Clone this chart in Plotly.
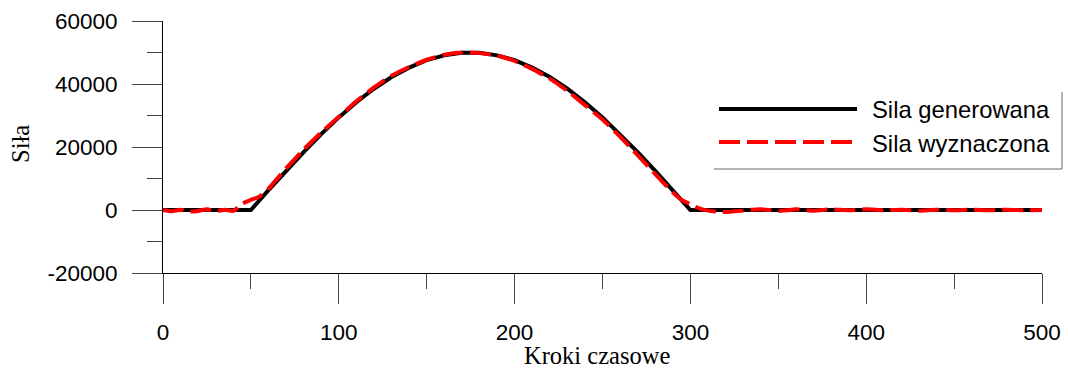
import plotly.graph_objects as go

# ---------------- data ----------------
x_gen = [0, 50, 60, 70, 80, 90, 100, 110, 120, 130, 140, 150, 160, 170, 175,
         180, 190, 200, 210, 220, 230, 240, 250, 260, 270, 280, 290, 300, 500]
y_gen = [0, 0, 6300, 12400, 18400, 24100, 29400, 34200, 38500, 42200, 45200,
         47600, 49100, 49900, 50000, 49900, 49100, 47600, 45200, 42200, 38500,
         34200, 29400, 24100, 18400, 12400, 6300, 0, 0]

x_est = [0, 5, 10, 15, 20, 25, 30, 35, 40, 45, 50, 55, 60, 70, 80, 90, 100,
         110, 120, 130, 140, 150, 160, 170, 180, 190, 200, 210, 220, 230, 240,
         250, 260, 270, 280, 290, 295, 300, 305, 310, 315, 320, 325, 330, 335,
         340, 345, 350, 355, 360, 370, 380, 390, 400, 410, 420, 430, 440, 450,
         460, 470, 480, 490, 500]
y_est = [0, -400, 100, -500, -300, 200, -400, 100, -300, 2000, 3200, 4300,
         6800, 13200, 19200, 24600, 29600, 34500, 38900, 42600, 45400, 47700,
         49300, 50000, 49800, 49000, 47300, 44800, 41700, 37800, 33300, 28700,
         23300, 17400, 11400, 5600, 3200, 1800, 500, -200, -500, -600, -400,
         -200, 100, 200, 0, -300, -100, 200, -200, 200, -100, 200, -100, 100,
         -200, 100, -100, 100, -100, 100, -50, 0]

x_tick_vals = [0, 100, 200, 300, 400, 500]
y_tick_vals = [-20000, 0, 20000, 40000, 60000]
y_tick_text = ["-20000", "0", "20000", "40000", "60000"]

name_gen = "Sila generowana"
name_est = "Sila wyznaczona"
x_title = "Kroki czasowe"
y_title = "Siła"

# ---------------- layout helpers ----------------
W, H = 1068, 372
L, R, T, B = 163, 1042, 21, 273  # plot area in px


def px(xp):
    return (xp - L) / (R - L)


def py(yp):
    return (B - yp) / (B - T)


TICK_FONT = dict(family="Liberation Sans, Arial", size=22.5, color="black")
LEG_FONT = dict(family="Liberation Sans, Arial", size=23.8, color="black")
TITLE_FONT = dict(family="Liberation Serif, Times New Roman", size=24.5, color="black")

fig = go.Figure()
fig.add_trace(go.Scatter(x=x_gen, y=y_gen, mode="lines", name=name_gen,
                         line=dict(color="black", width=4), showlegend=False))
fig.add_trace(go.Scatter(x=x_est, y=y_est, mode="lines", name=name_est,
                         line=dict(color="#ff0000", width=4, dash="21px,7px",
                                   shape="spline", smoothing=0.6),
                         showlegend=False))

fig.update_layout(
    width=W, height=H,
    margin=dict(l=L, r=W - R, t=T, b=H - B, pad=0, autoexpand=False),
    paper_bgcolor="white", plot_bgcolor="white",
    xaxis=dict(range=[0, 500], tickmode="array", tickvals=x_tick_vals,
               automargin=False,
               ticks="outside", ticklen=30, tickwidth=1, tickcolor="#444",
               showline=True, linecolor="black", linewidth=1,
               showgrid=False, zeroline=False, tickfont=TICK_FONT,
               ticklabelstandoff=9,
               minor=dict(tickmode="linear", tick0=0, dtick=50, ticks="outside",
                          ticklen=15, tickwidth=1, tickcolor="#444", showgrid=False)),
    yaxis=dict(range=[-20000, 60000], tickmode="array", tickvals=y_tick_vals,
               ticktext=y_tick_text, automargin=False,
               ticks="outside", ticklen=30, tickwidth=1, tickcolor="#444",
               showline=True, linecolor="black", linewidth=1,
               showgrid=False, zeroline=False, tickfont=TICK_FONT,
               ticklabelstandoff=10,
               minor=dict(tickmode="linear", tick0=0, dtick=10000, ticks="outside",
                          ticklen=15, tickwidth=1, tickcolor="#444", showgrid=False)),
)

# axis titles
fig.add_annotation(text=x_title, xref="paper", yref="paper", x=px(597), y=py(355),
                   showarrow=False, font=TITLE_FONT, xanchor="center", yanchor="middle")
fig.add_annotation(text=y_title, xref="paper", yref="paper", x=px(20), y=py(144),
                   showarrow=False, font=TITLE_FONT, textangle=-90,
                   xanchor="center", yanchor="middle")

# manual legend
fig.add_shape(type="line", xref="paper", yref="paper", x0=px(1062), x1=px(1062),
              y0=py(92), y1=py(169), line=dict(color="#666", width=1))
fig.add_shape(type="line", xref="paper", yref="paper", x0=px(714), x1=px(1062),
              y0=py(169), y1=py(169), line=dict(color="#666", width=1))
fig.add_shape(type="line", xref="paper", yref="paper", x0=px(719), x1=px(857),
              y0=py(109), y1=py(109), line=dict(color="black", width=4))
fig.add_shape(type="line", xref="paper", yref="paper", x0=px(719), x1=px(852),
              y0=py(142), y1=py(142), line=dict(color="#ff0000", width=4, dash="21px,7px"))
fig.add_annotation(text=name_gen, xref="paper", yref="paper", x=px(870), y=py(109),
                   showarrow=False, font=LEG_FONT, xanchor="left", yanchor="middle")
fig.add_annotation(text=name_est, xref="paper", yref="paper", x=px(870), y=py(143),
                   showarrow=False, font=LEG_FONT, xanchor="left", yanchor="middle")

fig.write_html("out.html")
